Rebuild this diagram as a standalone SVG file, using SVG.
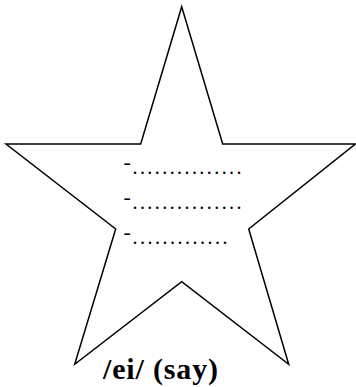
<svg xmlns="http://www.w3.org/2000/svg" width="356" height="387" viewBox="0 0 356 387">
<style>
.star{fill:#fff;stroke:#000;stroke-width:1.5;stroke-linejoin:miter}
.dash{font-family:'Liberation Serif','DejaVu Serif',serif;font-size:22px;fill:#000}
.dots{font-family:'Liberation Serif','DejaVu Serif',serif;font-size:20px;fill:#000}
.label{font-family:'Liberation Serif','DejaVu Serif',serif;font-size:30px;font-weight:bold;fill:#000}
</style>
<rect width="356" height="387" fill="#fff"/>
<g id="star">
<polygon class="star" points="181.7,6.7 222.7,144 355.3,144 248.7,229 288.7,364.3 181.7,281.7 74.7,364.3 115.7,229 6,144 140.7,144"/>
</g>
<g id="lines">
<text class="dash" x="123.5" y="168.5">-</text>
<text class="dots" x="132.5" y="174" textLength="109" lengthAdjust="spacing">...............</text>
<text class="dash" x="123.5" y="203.5">-</text>
<text class="dots" x="132.5" y="209" textLength="109" lengthAdjust="spacing">...............</text>
<text class="dash" x="123.5" y="238.5">-</text>
<text class="dots" x="132.5" y="244" textLength="95" lengthAdjust="spacing">.............</text>
</g>
<g id="label">
<text class="label" x="103" y="379" textLength="115" lengthAdjust="spacing">/ei/ (say)</text>
</g>
</svg>
